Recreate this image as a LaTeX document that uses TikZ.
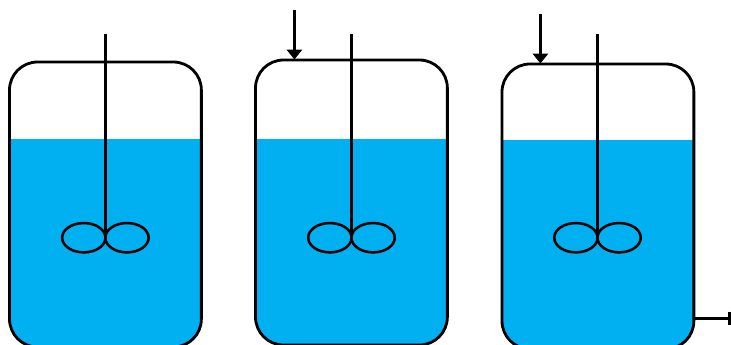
\documentclass[tikz,border=0pt]{standalone}
\usetikzlibrary{arrows.meta,shapes.geometric,calc}
\definecolor{liquid}{RGB}{0,176,240}
\tikzset{
  vessel/.style={draw=black,line width=2.1pt,rounded corners=21pt,fill=white,outer sep=0pt,
    minimum width=143.9pt,minimum height=213.75pt,inner sep=0pt,anchor=north west,
    path picture={\fill[liquid,sharp corners] ($(path picture bounding box.north west)+(0,-#1)$) rectangle (path picture bounding box.south east);}},
  blade/.style={draw=black,line width=1.9pt,ellipse,outer sep=0pt,minimum width=32.5pt,minimum height=22pt,inner sep=0pt},
  shaftline/.style={draw=black,line width=1.9pt},
  feed/.style={draw=black,line width=1.9pt,-{Triangle[width=11.5pt,length=7.5pt]}},
  outlet/.style={draw=black,line width=1.9pt,-{Bar[width=10pt,length=0pt]}}
}
\begin{document}
\begin{tikzpicture}[x=0.75pt,y=-0.75pt]
\useasboundingbox (0,0) rectangle (731,344);
\clip (0,0) rectangle (731,344);
\node[vessel=57.75pt] (v1) at (9.5,62) {};
\node[vessel=59.25pt] (v2) at (255.5,60) {};
\node[vessel=57pt] (v3) at (502,64) {};
% stirrers
\foreach \n/\x in {1/105.4,2/351.5,3/597.5}{
  \coordinate (top\n) at (\x,34);
  \coordinate (hub\n) at (\x,237.7);
  \node[blade] (bl\n) at (\x-21.6,237.7) {};
  \node[blade] (br\n) at (\x+21.6,237.7) {};
  \draw[shaftline] (top\n) -- (hub\n);
}
\coordinate (in2) at (294.4,10);
\coordinate (to2) at (294.4,59.5);
\coordinate (in3) at (540.4,14);
\coordinate (to3) at (540.4,63.5);
\draw[feed] (in2) -- (to2);
\draw[feed] (in3) -- (to3);
\coordinate (from3) at (694,318.5);
\coordinate (out3) at (731,318.5);
\draw[outlet] (from3) -- (out3);
\end{tikzpicture}
\end{document}
